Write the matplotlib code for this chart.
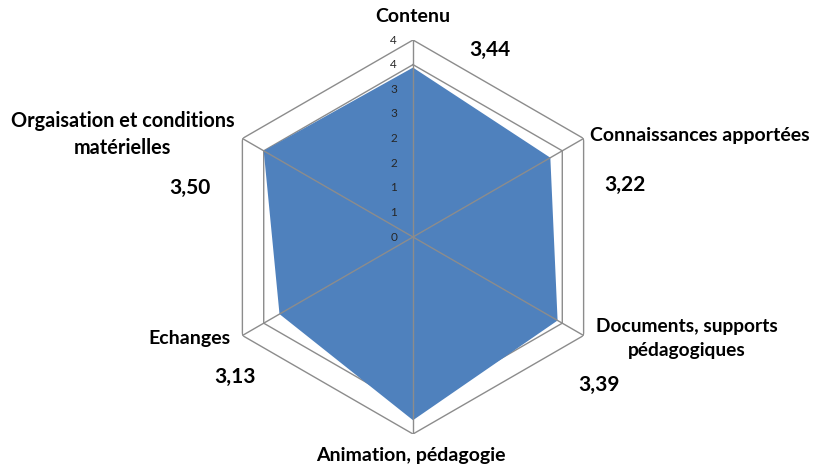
import numpy as np
import matplotlib
matplotlib.use("Agg")
import matplotlib.pyplot as plt

categories = ["Contenu", "Connaissances apportées", "Documents, supports\npédagogiques",
              "Animation, pédagogie", "Echanges", "Orgaisation et conditions\nmatérielles"]
values = [3.44, 3.22, 3.39, 3.72, 3.13, 3.50]
value_labels = ["3,44", "3,22", "3,39", "", "3,13", "3,50"]
tick_values = [0, 0.5, 1, 1.5, 2, 2.5, 3, 3.5, 4]
tick_labels = ["0", "1", "1", "2", "2", "3", "3", "4", "4"]

plt.rcParams['font.family'] = ['Lato', 'DejaVu Sans']

W, H = 821, 469
fig = plt.figure(figsize=(W / 100, H / 100), dpi=100)
cx, cy, R = 413, 237, 197
ax = fig.add_axes([(cx - R) / W, (H - cy - R) / H, 2 * R / W, 2 * R / H], projection='polar')
ax.set_theta_offset(np.pi / 2)
ax.set_theta_direction(-1)
ax.set_ylim(0, 4)
ax.grid(False)
ax.spines['polar'].set_visible(False)
ax.set_xticks([])
ax.set_yticks([])
ax.patch.set_alpha(0)

n = len(categories)
angles = np.linspace(0, 2 * np.pi, n, endpoint=False)
closed = np.concatenate([angles, angles[:1]])

grid_col = '#8c8c8c'
# hexagonal rings
for t in tick_values[1:]:
    ax.plot(closed, [t] * (n + 1), color=grid_col, lw=1.0, zorder=1)

# filled series
vals = np.array(values + values[:1])
ax.fill(closed, vals, color='#4F81BD', zorder=2, lw=0)

# spokes on top
for a in angles:
    ax.plot([a, a], [0, 4], color=grid_col, lw=1.0, zorder=3)

# tick labels
for t, lab in zip(tick_values, tick_labels):
    ax.annotate(lab, xy=(0, t), xytext=(-16, 0), textcoords='offset pixels',
                ha='right', va='center', fontsize=8.5, color='#262626', zorder=4)

# category labels (offsets in pixels from outer vertex)
cat_offsets = [(0, 23, 'center', 14), (6, 3.5, 'left', 14), (103, -3, 'center', 13.8),
               (-2, -21, 'center', 14), (-12, -2.5, 'right', 14), (-120, 4, 'center', 14.3)]
for a, lab, (dx, dy, ha, fs) in zip(angles, categories, cat_offsets):
    ax.annotate(lab, xy=(a, 4), xytext=(dx, dy), textcoords='offset pixels',
                ha=ha, va='center', multialignment='center', fontsize=fs,
                fontweight='bold', color='black', linespacing=1.45, annotation_clip=False)

# value labels
val_offsets = [(77, -10), (41, -46.5), (15, -49.5), (0, 0), (-7.4, -41.5), (-52.4, -49.5)]
for a, lab, (dx, dy) in zip(angles, value_labels, val_offsets):
    if lab:
        ax.annotate(lab, xy=(a, 4), xytext=(dx, dy), textcoords='offset pixels',
                    ha='center', va='center', fontsize=15, fontweight='bold',
                    color='black', annotation_clip=False)

fig.savefig('out.png', dpi=100)
